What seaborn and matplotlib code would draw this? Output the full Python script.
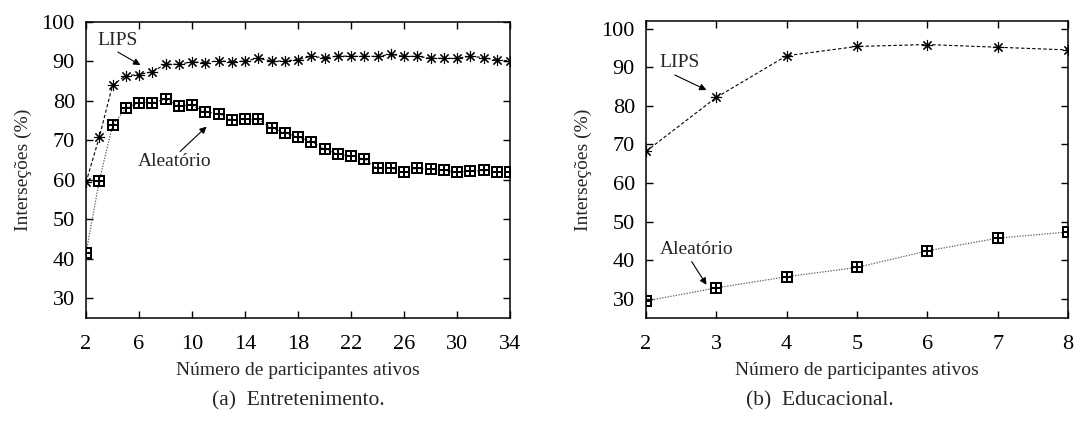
import matplotlib
matplotlib.use("Agg")
import matplotlib.pyplot as plt
import seaborn as sns

# data
ent_x = list(range(2, 35))
ent_lips = [59.4, 70.8, 84.0, 86.4, 86.7, 87.4, 89.3, 89.3, 89.9, 89.7, 90.2,
            89.9, 90.1, 90.8, 90.1, 90.1, 90.5, 91.3, 90.9, 91.4, 91.3, 91.3,
            91.3, 91.8, 91.3, 91.3, 90.8, 90.8, 90.8, 91.3, 91.0, 90.3, 90.2]
ent_aleat = [41.4, 59.8, 73.8, 78.2, 79.6, 79.6, 80.4, 78.8, 78.9, 77.2, 76.8,
             75.1, 75.3, 75.3, 73.1, 72.0, 70.8, 69.7, 67.9, 66.5, 66.1, 65.3,
             62.9, 62.9, 61.9, 62.9, 62.7, 62.4, 62.0, 62.2, 62.4, 62.0, 62.0]
ent_ticks = [2, 6, 10, 14, 18, 22, 26, 30, 34]

edu_x = [2, 3, 4, 5, 6, 7, 8]
edu_lips = [68.2, 82.2, 93.0, 95.4, 95.9, 95.2, 94.5]
edu_aleat = [29.4, 32.8, 35.7, 38.1, 42.4, 45.7, 47.3]

sns.set_style("ticks")
plt.rcParams["font.family"] = ["Liberation Serif", "DejaVu Serif"]
plt.rcParams["axes.linewidth"] = 1.1

fig = plt.figure(figsize=(10.74, 4.21), dpi=100)
ax1 = fig.add_axes([0.0801, 0.2447, 0.3948, 0.703])
ax2 = fig.add_axes([0.6015, 0.2447, 0.3929, 0.7054])

ast = (8, 2, 0)
box = "$\\boxplus$"
arrow = dict(arrowstyle="-|>", color="black", lw=0.8, shrinkA=0, shrinkB=0,
             mutation_scale=10)


def draw(ax, x, lips, aleat):
    sns.lineplot(x=x, y=aleat, ax=ax, color="0.35", linestyle=(0, (1, 1.2)),
                 linewidth=0.9, marker=box, markersize=8,
                 markeredgecolor="black", markerfacecolor="black",
                 markeredgewidth=0)
    sns.lineplot(x=x, y=lips, ax=ax, color="black", linestyle=(0, (3, 2)),
                 linewidth=0.8, marker=ast, markersize=8,
                 markeredgecolor="black", markeredgewidth=0.8)
    ax.tick_params(direction="in", top=True, right=True, length=5,
                   labelsize=16, width=1, colors="black")
    ax.tick_params(axis="x", pad=12)
    ax.tick_params(axis="y", pad=8)
    for s in ax.spines.values():
        s.set_visible(True)
        s.set_color("black")
    ax.set_ylabel("Interseções (%)", fontsize=14, labelpad=7)
    ax.set_xlabel("Número de participantes ativos", fontsize=14, labelpad=6)


def label(ax, text, pos, tail, head):
    ax.text(pos[0], pos[1], text, fontsize=14, ha="center", va="center")
    ax.annotate("", xy=head, xytext=tail, arrowprops=arrow)


draw(ax1, ent_x, ent_lips, ent_aleat)
ax1.set_xlim(2, 34)
ax1.set_ylim(25, 100)
ax1.set_xticks(ent_ticks)
ax1.set_yticks(range(30, 101, 10))
label(ax1, "LIPS", (4.4, 95.2), (4.4, 92.4), (6.1, 89.1))
label(ax1, "Aleatório", (8.7, 64.6), (9.1, 67.2), (11.1, 73.5))

draw(ax2, edu_x, edu_lips, edu_aleat)
ax2.set_xlim(2, 8)
ax2.set_ylim(25, 102)
ax2.set_xticks(edu_x)
ax2.set_yticks(range(30, 101, 10))
label(ax2, "LIPS", (2.48, 91.3), (2.41, 88.0), (2.86, 84.1))
label(ax2, "Aleatório", (2.72, 42.8), (2.65, 39.6), (2.86, 33.6))

fig.text(0.2775, 0.048, "(a)  Entretenimento.", ha="center", va="center",
         fontsize=15.5)
fig.text(0.763, 0.048, "(b)  Educacional.", ha="center", va="center",
         fontsize=15.5)

fig.savefig("out.png", dpi=100)
